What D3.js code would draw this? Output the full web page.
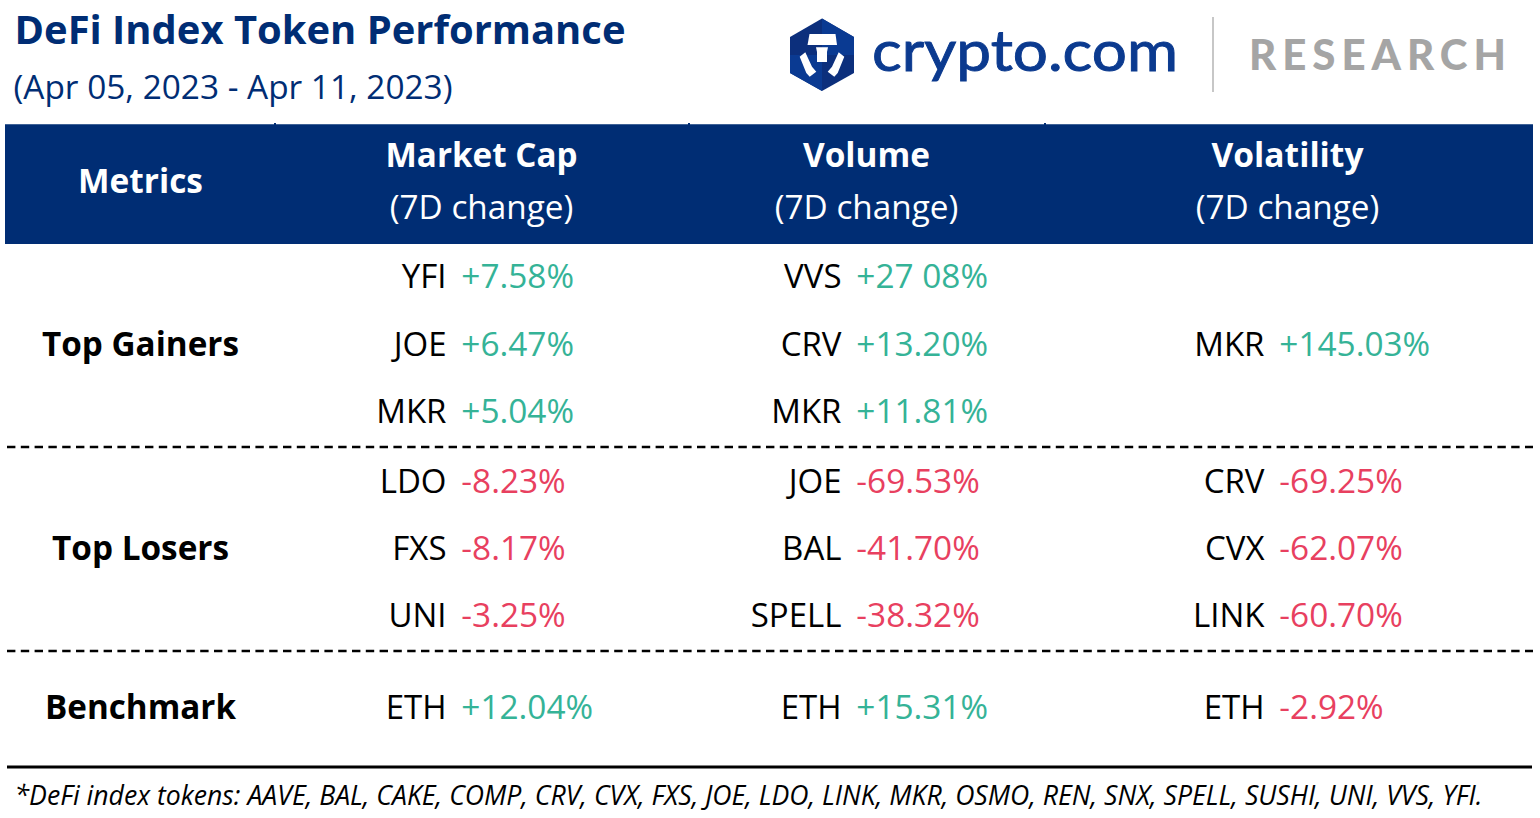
<!DOCTYPE html>
<html><head><meta charset="utf-8">
<script src="https://cdn.jsdelivr.net/npm/d3@7/dist/d3.min.js"></script>
<style>html,body{margin:0;padding:0;background:#fff;overflow:hidden}svg{display:block}text{font-family:"Open Sans",sans-serif}</style>
</head><body><svg id="c" width="1540" height="818"></svg>
<script>
const title = "DeFi Index Token Performance";
const subtitle = "(Apr 05, 2023 - Apr 11, 2023)";
const columns = ["Market Cap", "Volume", "Volatility"];
const columnSub = "(7D change)";
const metricHeader = "Metrics";
const groups = ["Top Gainers", "Top Losers", "Benchmark"];
const marketCap = [
  ["YFI","+7.58%"],["JOE","+6.47%"],["MKR","+5.04%"],
  ["LDO","-8.23%"],["FXS","-8.17%"],["UNI","-3.25%"],
  ["ETH","+12.04%"]];
const volume = [
  ["VVS","+27 08%"],["CRV","+13.20%"],["MKR","+11.81%"],
  ["JOE","-69.53%"],["BAL","-41.70%"],["SPELL","-38.32%"],
  ["ETH","+15.31%"]];
const volatility = [
  null,["MKR","+145.03%"],null,
  ["CRV","-69.25%"],["CVX","-62.07%"],["LINK","-60.70%"],
  ["ETH","-2.92%"]];
const rowY = [275,343,410,480,547,614,706];
const groupY = [342,546,705.5];
const footnote = "*DeFi index tokens: AAVE, BAL, CAKE, COMP, CRV, CVX, FXS, JOE, LDO, LINK, MKR, OSMO, REN, SNX, SPELL, SUSHI, UNI, VVS, YFI.";

const navy="#002d74", green="#35b397", red="#e8405f";
const svg=d3.select("#c");
const headX={"Market Cap":481.5,"Volume":866.5,"Volatility":1287.5};
const splitX={"Market Cap":454,"Volume":849,"Volatility":1272};

const T=(x,y,s,size,fill,anchor,weight,style)=>svg.append("text").attr("x",x).attr("y",y)
  .attr("dominant-baseline","central").attr("text-anchor",anchor||"start").attr("font-size",size)
  .attr("fill",fill).attr("font-weight",weight||400).attr("font-style",style||"normal").text(s);

T(14.5,29,title,39.5,navy,"start",700).attr("textLength",611).attr("lengthAdjust","spacingAndGlyphs");
T(13.5,86,subtitle,33,navy).attr("textLength",439).attr("lengthAdjust","spacingAndGlyphs");

// header band
svg.append("rect").attr("x",5).attr("y",124).attr("width",1528).attr("height",120).attr("fill",navy);
svg.append("line").attr("x1",5).attr("x2",1533).attr("y1",124.5).attr("y2",124.5).attr("stroke","#3f6296").attr("stroke-width",1);
[275,689,1045].forEach(x=>svg.append("line").attr("x1",x).attr("x2",x).attr("y1",123).attr("y2",126).attr("stroke",navy).attr("stroke-width",2));
T(140.5,179,metricHeader,34.5,"#fff","middle",700).attr("textLength",125).attr("lengthAdjust","spacingAndGlyphs");
const headW={"Market Cap":192,"Volume":127,"Volatility":152};
columns.forEach(c=>{
  T(headX[c],153,c,34.5,"#fff","middle",700).attr("textLength",headW[c]).attr("lengthAdjust","spacingAndGlyphs");
  T(headX[c],206,columnSub,33.3,"#fff","middle");
});

// groups
const groupW=[197,177,191];
groups.forEach((g,i)=>T(140.5,groupY[i],g,34.5,"#000","middle",700).attr("textLength",groupW[i]).attr("lengthAdjust","spacingAndGlyphs"));

// rows
[["Market Cap",marketCap],["Volume",volume],["Volatility",volatility]].forEach(([c,arr])=>{
  arr.forEach((d,i)=>{
    if(!d) return;
    T(splitX[c]-7.5,rowY[i],d[0],33,"#000","end");
    T(splitX[c]+7.3,rowY[i],d[1],33.4,d[1][0]==="+"?green:red);
  });
});

// rules
[447,651].forEach(y=>svg.append("line").attr("x1",7).attr("x2",1533).attr("y1",y).attr("y2",y)
  .attr("stroke","#000").attr("stroke-width",2.6).attr("stroke-dasharray","8.4 5.4"));
svg.append("line").attr("x1",7).attr("x2",1532).attr("y1",767).attr("y2",767).attr("stroke","#000").attr("stroke-width",3);
T(14.5,794.5,footnote,27,"#000","start",400,"italic").attr("textLength",1468).attr("lengthAdjust","spacingAndGlyphs");

// logo
const g=svg.append("g").attr("transform","translate(822,55)");
g.append("path").attr("d","M0,-36.5 L32,-18 L32,18 L0,36 L-32,18 L-32,-18 Z").attr("fill","#0c2f7c");
g.append("path").attr("d","M0,-36.5 L32,-18 L32,0 L0,0 Z").attr("fill","#0a3a92");
g.append("path").attr("d","M0,0 L-32,0 L-32,18 L0,36 Z").attr("fill","#0a3a92");
[ "M-12.5,-21 L13.5,-21 L15,-10 L-14.5,-10 Z",
  "M-6,-7.7 L6,-7.7 L5,-3 L5,7 L-5,7 L-5,-3 Z",
  "M-16.7,-2.7 L-22.3,1.7 L-15.7,18 L-12.3,21.7 L-5.7,16.7 L-10,11.7 Z",
  "M16.7,-2.7 L22.3,1.7 L15.7,18 L12.3,21.7 L5.7,16.7 L10,11.7 Z"
].forEach(d=>g.append("path").attr("d",d).attr("fill","#fff"));
svg.append("text").attr("x",872).attr("y",49).attr("dominant-baseline","central").attr("font-size",56)
  .attr("fill","#0b3a8f").attr("stroke","#0b3a8f").attr("stroke-width",0.9).style("font-family","Lato,sans-serif")
  .attr("textLength",306).attr("lengthAdjust","spacingAndGlyphs").text("crypto.com");
svg.append("line").attr("x1",1213).attr("x2",1213).attr("y1",17).attr("y2",92).attr("stroke","#b5b5b5").attr("stroke-width",1.5);
svg.append("text").attr("x",1249).attr("y",54).attr("dominant-baseline","central").attr("font-size",42)
  .attr("fill","#a5a5a5").attr("font-weight",900).style("font-family","Lato,sans-serif")
  .attr("textLength",257).attr("lengthAdjust","spacing").text("RESEARCH");
</script></body></html>
